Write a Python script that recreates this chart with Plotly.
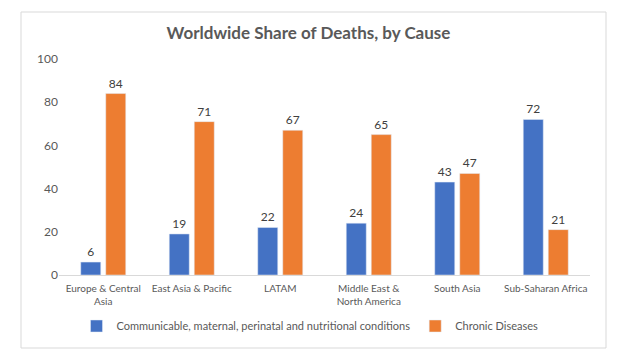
import plotly.graph_objects as go

categories = ["Europe & Central<br>Asia", "East Asia & Pacific", "LATAM",
              "Middle East &<br>North America", "South Asia", "Sub-Saharan Africa"]
communicable = [6, 19, 22, 24, 43, 72]
chronic = [84, 71, 67, 65, 47, 21]
series_names = ["Communicable, maternal, perinatal and nutritional conditions", "Chronic Diseases"]
y_ticks = [0, 20, 40, 60, 80, 100]

W, H = 617, 360
L, R, T, B = 59, 590, 59, 275

fig = go.Figure()
for name, vals, col in [(series_names[0], communicable, "#4472C4"),
                        (series_names[1], chronic, "#ED7D31")]:
    fig.add_trace(go.Bar(
        x=categories, y=vals, name=name, marker_color=col,
        text=[str(v) for v in vals], textposition="outside",
        textfont=dict(size=12, color="#404040", family="Lato"),
        cliponaxis=False,
    ))

def px(x):
    return (x - L) / (R - L)

def py(y):
    return (B - y) / (B - T)

fig.update_layout(
    width=W, height=H,
    margin=dict(l=L, r=W - R, t=T, b=H - B, autoexpand=False),
    paper_bgcolor="white", plot_bgcolor="white",
    barmode="group", bargap=0.435, bargroupgap=0.2,
    font=dict(family="Lato", color="#595959"),
    title=dict(text="<b>Worldwide Share of Deaths, by Cause</b>", x=0.5, xref="container",
               y=1 - 33 / H, yref="container", yanchor="middle", xanchor="center",
               font=dict(size=17, color="#595959", family="Lato")),
    showlegend=True,
    legend=dict(orientation="h", x=px(310), xanchor="center", xref="paper",
                y=py(326), yanchor="middle", font=dict(size=11, color="#595959"),
                itemwidth=30, traceorder="normal"),
    xaxis=dict(showline=True, linecolor="#d9d9d9", linewidth=1, ticks="",
               ticklabelstandoff=4,
               tickfont=dict(size=10, color="#595959")),
    yaxis=dict(range=[0, 100], tickvals=y_ticks, showgrid=False, zeroline=False,
               showline=False, tickfont=dict(size=12, color="#595959"), ticklen=0),
    shapes=[dict(type="rect", xref="paper", yref="paper",
                 x0=px(21), x1=px(606), y0=py(348), y1=py(12),
                 line=dict(color="#d9d9d9", width=1), fillcolor="rgba(0,0,0,0)", layer="below")],
)

fig.write_html("out.html", config={"displayModeBar": False},
               post_script="document.body.style.margin='0';")
